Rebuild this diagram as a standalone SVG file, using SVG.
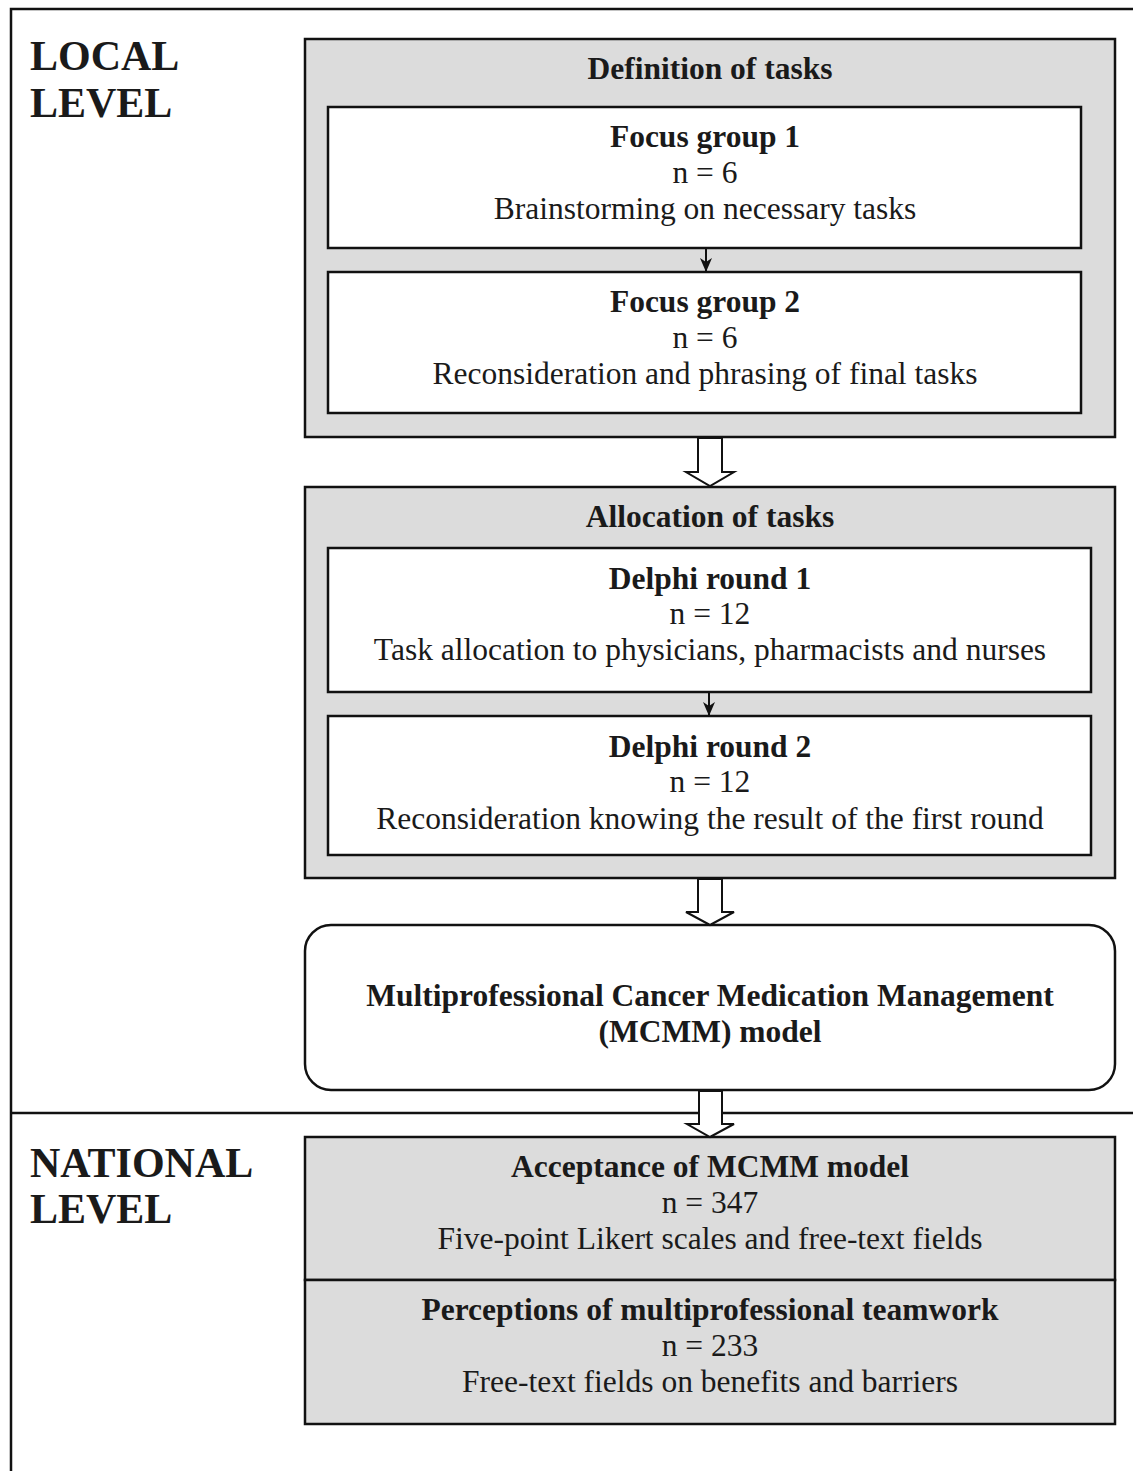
<svg xmlns="http://www.w3.org/2000/svg" width="1133" height="1471" viewBox="0 0 1133 1471">
<style>
.t{font-family:"Liberation Serif","Times New Roman",serif;font-size:31.5px;fill:#1a1a1a;text-anchor:middle}
.b{font-weight:bold}
.lvl{font-family:"Liberation Serif","Times New Roman",serif;font-size:42px;font-weight:bold;fill:#1a1a1a}
.grey{fill:#dcdcdc;stroke:#111;stroke-width:2.5}
.white{fill:#fff;stroke:#111;stroke-width:2.5}
.line{fill:none;stroke:#111;stroke-width:2.5}
.blk{fill:#fff;stroke:#111;stroke-width:2}
.thin{fill:none;stroke:#111;stroke-width:2}
</style>
<defs>
<marker id="ah" markerWidth="14" markerHeight="12" refX="13" refY="6" orient="auto" markerUnits="userSpaceOnUse">
<path d="M0,0 L14,6 L0,12 L4,6 Z" fill="#111"/>
</marker>
</defs>
<rect width="1133" height="1471" fill="#fff"/>
<g id="frame">
<path class="line" d="M11,1471 L11,9 L1133,9"/>
<path class="line" d="M11,1113 L1133,1113"/>
</g>
<g id="local-label"><text class="lvl" x="30" y="70">LOCAL</text><text class="lvl" x="30" y="117">LEVEL</text></g>
<g id="national-label"><text class="lvl" x="30" y="1177">NATIONAL</text><text class="lvl" x="30" y="1223">LEVEL</text></g>
<g id="definition">
<rect class="grey" x="305" y="39" width="810" height="398"/>
<text class="t b" x="710" y="79">Definition of tasks</text>
</g>
<g id="focus1">
<rect class="white" x="328" y="107" width="753" height="141"/>
<text class="t b" x="705" y="147">Focus group 1</text>
<text class="t" x="705" y="183">n = 6</text>
<text class="t" x="705" y="219">Brainstorming on necessary tasks</text>
</g>
<g id="focus2">
<rect class="white" x="328" y="272" width="753" height="141"/>
<text class="t b" x="705" y="312">Focus group 2</text>
<text class="t" x="705" y="348">n = 6</text>
<text class="t" x="705" y="384">Reconsideration and phrasing of final tasks</text>
</g>
<g id="allocation">
<rect class="grey" x="305" y="487" width="810" height="391"/>
<text class="t b" x="710" y="527">Allocation of tasks</text>
</g>
<g id="delphi1">
<rect class="white" x="328" y="548" width="763" height="144"/>
<text class="t b" x="710" y="589">Delphi round 1</text>
<text class="t" x="710" y="624">n = 12</text>
<text class="t" x="710" y="660">Task allocation to physicians, pharmacists and nurses</text>
</g>
<g id="delphi2">
<rect class="white" x="328" y="716" width="763" height="139"/>
<text class="t b" x="710" y="757">Delphi round 2</text>
<text class="t" x="710" y="792">n = 12</text>
<text class="t" x="710" y="829">Reconsideration knowing the result of the first round</text>
</g>
<g id="mcmm">
<rect class="white" x="305" y="925" width="810" height="165" rx="26"/>
<text class="t b" x="710" y="1006">Multiprofessional Cancer Medication Management</text>
<text class="t b" x="710" y="1042">(MCMM) model</text>
</g>
<g id="acceptance">
<rect class="grey" x="305" y="1137" width="810" height="143"/>
<text class="t b" x="710" y="1177">Acceptance of MCMM model</text>
<text class="t" x="710" y="1213">n = 347</text>
<text class="t" x="710" y="1249">Five-point Likert scales and free-text fields</text>
</g>
<g id="perceptions">
<rect class="grey" x="305" y="1280" width="810" height="144"/>
<text class="t b" x="710" y="1320">Perceptions of multiprofessional teamwork</text>
<text class="t" x="710" y="1356">n = 233</text>
<text class="t" x="710" y="1392">Free-text fields on benefits and barriers</text>
</g>
<g id="connectors">
<line class="thin" x1="706" y1="249" x2="706" y2="271" marker-end="url(#ah)"/>
<line class="thin" x1="709" y1="693" x2="709" y2="715" marker-end="url(#ah)"/>
<path class="blk" d="M698,438 L722,438 L722,472 L734,472 L710,486 L686,472 L698,472 Z"/>
<path class="blk" d="M698,879 L722,879 L722,912 L734,912 L710,925 L686,912 L698,912 Z"/>
<path class="blk" d="M699,1091 L722,1091 L722,1124 L734,1124 L710,1137 L687,1124 L699,1124 Z"/>
</g>
</svg>
